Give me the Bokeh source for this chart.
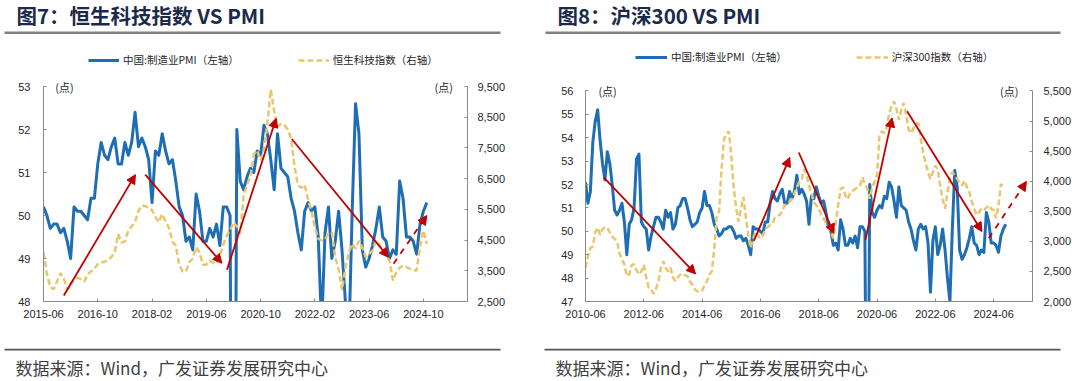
from bokeh.plotting import figure
from bokeh.models import (Range1d, LinearAxis, FixedTicker, NumeralTickFormatter, Legend,
                          LegendItem, Label, Arrow, NormalHead, BoxAnnotation)
from bokeh.layouts import column, row
from bokeh.embed import file_html
from bokeh.resources import INLINE
from bokeh.core.properties import value

# ---------------- data ----------------
pmi_2010_06_to_2015_05 = [
    52.1, 51.2, 51.7, 53.8, 54.7, 55.2, 53.9,
    52.9, 52.2, 53.4, 52.9, 52.0, 50.9, 50.7, 50.9, 51.2, 50.4, 49.0, 50.3,
    50.5, 51.0, 53.1, 53.3, 50.4, 50.2, 50.1, 49.2, 49.8, 50.2, 50.6, 50.6,
    50.4, 50.1, 50.9, 50.6, 50.8, 50.1, 50.3, 51.0, 51.1, 51.4, 51.4, 51.0,
    50.5, 50.2, 50.3, 50.4, 50.8, 51.0, 51.7, 51.1, 51.1, 50.8, 50.3, 50.1,
    49.8, 49.9, 50.1, 50.1, 50.2,
]
pmi_2015_06_to_2024_11 = [
    50.2, 50.0, 49.7, 49.8, 49.8, 49.6, 49.7,
    49.4, 49.0, 50.2, 50.1, 50.1, 50.0, 49.9, 50.4, 50.4, 51.2, 51.7, 51.4,
    51.3, 51.6, 51.8, 51.2, 51.2, 51.7, 51.4, 51.7, 52.4, 51.6, 51.8, 51.6,
    51.3, 50.3, 51.5, 51.4, 51.9, 51.5, 51.2, 51.3, 50.8, 50.2, 50.0, 49.4,
    49.5, 49.2, 50.5, 50.1, 49.4, 49.4, 49.7, 49.5, 49.8, 49.3, 50.2, 50.2,
    50.0, 35.7, 52.0, 50.8, 50.6, 50.9, 51.1, 51.0, 51.5, 51.4, 52.1, 51.9,
    51.3, 50.6, 51.9, 51.1, 51.0, 50.9, 50.4, 50.1, 49.6, 49.2, 50.1, 50.3,
    50.1, 50.2, 49.5, 47.4, 49.6, 50.2, 49.0, 49.4, 50.1, 49.2, 48.0, 47.0,
    50.1, 52.6, 51.9, 49.2, 48.8, 49.0, 49.3, 49.7, 50.2, 49.5, 49.4, 49.0,
    49.2, 49.1, 50.8, 50.4, 49.5, 49.5, 49.4, 49.1, 49.8, 50.1, 50.3,
]
hstech_2015_06_to_2024_11 = [
    4100, 3400, 2970, 2900, 3150, 3420, 3250, 2870, 3080, 3200, 3280, 3230,
    3150, 3380, 3480, 3560, 3720, 3760, 3800, 3830, 3950, 4100, 4700, 4420,
    4450, 4800, 4950, 5100, 5450, 5630, 5600, 5560, 5470, 5250, 5080, 5350,
    5100, 4900, 4450, 4320, 3700, 3480, 3480, 3780, 3900, 4270, 4100, 3700,
    3700, 3830, 3760, 3730, 4000, 4350, 4650, 4820, 5080, 4950, 4700, 5950,
    6300, 6550, 7300, 7400, 7100, 7420, 8300, 9400, 8700, 8200, 8280, 8250,
    8100, 7800, 6900, 6300, 6200, 6300, 5800, 5450, 4900, 4550, 4480, 4520,
    4700, 4750, 3950, 3550, 2870, 3600, 4100, 4380, 4220, 4480, 4250, 3950,
    4050, 4160, 4480, 4350, 4160, 4000, 3830, 3180, 3450, 3600, 3670, 3620,
    3560, 3520, 3510, 4300, 4810, 4380,
]
csi300_2010_06_to_2024_10 = [
    2560, 2750, 2890, 2910, 3150, 3230, 3110, 3200, 3240, 3220, 3150, 3080,
    3040, 3000, 2800, 2700, 2620, 2420, 2450, 2600, 2620, 2520, 2450, 2500,
    2610, 2400, 2230, 2200, 2130, 2200, 2340, 2560, 2670, 2560, 2500, 2560,
    2400, 2340, 2400, 2450, 2420, 2440, 2420, 2330, 2280, 2200, 2170, 2160,
    2180, 2270, 2340, 2450, 2500, 2880, 3400, 3500, 4200, 4700, 4780, 4830,
    4420, 3900, 3550, 3330, 3550, 3740, 3400, 3100, 2890, 3050, 3160, 3100,
    3050, 3100, 3200, 3240, 3270, 3300, 3400, 3420, 3440, 3500, 3600, 3620,
    3660, 3700, 3800, 3900, 3990, 4030, 4200, 4100, 3930, 3800, 3650, 3600,
    3545, 3450, 3380, 3300, 3216, 3150, 3050, 3300, 3600, 3870, 3900, 3760,
    3700, 3820, 3840, 3870, 3900, 3930, 4065, 3950, 3870, 3710, 3900, 3990,
    4100, 4750, 4830, 4800, 4910, 5130, 5250, 5330, 5200, 5020, 5190, 5300,
    5100, 4860, 4800, 4880, 4950, 4970, 4700, 4480, 4300, 4150, 4040, 4150,
    4260, 4200, 3930, 3700, 3545, 3820, 4040, 4150, 4100, 4040, 3980, 3930,
    4010, 3900, 3820, 3660, 3550, 3440, 3480, 3545, 3520, 3560, 3600, 3540,
    3520, 3380, 3600, 3955, 3900,
]
left_x_labels = ["2015-06", "2016-10", "2018-02", "2019-06", "2020-10", "2022-02", "2023-06", "2024-10"]
right_x_labels = ["2010-06", "2012-06", "2014-06", "2016-06", "2018-06", "2020-06", "2022-06", "2024-06"]
left_pmi_ticks = [48, 49, 50, 51, 52, 53]
left_idx_ticks = [2500, 3500, 4500, 5500, 6500, 7500, 8500, 9500]
right_pmi_ticks = [47, 48, 49, 50, 51, 52, 53, 54, 55, 56]
right_idx_ticks = [2000, 2500, 3000, 3500, 4000, 4500, 5000, 5500]

titles = ["图7：恒生科技指数 VS PMI", "图8：沪深300 VS PMI"]
source_text = "数据来源：Wind，广发证券发展研究中心"
pmi_name = "中国:制造业PMI（左轴）"
idx_names = ["恒生科技指数（右轴）", "沪深300指数（右轴）"]
unit_text = "(点)"

# trend arrows (x in months from the first date, y on the PMI axis)
left_arrows = [(6.0, 48.14, 27.1, 50.95, "solid"), (30.0, 50.95, 52.6, 48.89, "solid"),
               (54.1, 48.74, 68.6, 52.26, "solid"), (73.2, 51.78, 101.7, 49.03, "solid"),
               (103.2, 48.88, 113.0, 50.0, "dashed")]
right_arrows = [(7.5, 52.31, 45.3, 48.18, "solid"), (69.3, 49.59, 84.1, 53.16, "solid"),
                (87.8, 53.37, 102.2, 49.92, "solid"), (115.2, 49.63, 126.2, 54.85, "solid"),
                (132.4, 55.13, 163.2, 49.99, "solid"), (166.0, 49.7, 181.5, 52.13, "dashed")]

BLUE = "#1F6EB4"
YEL = "#E8C66E"
RED = "#C00000"
AXC = "#8A8A8A"
TXT = "#262626"
NUM_FONT = "Liberation Sans"
CJK = "Noto Sans CJK SC"

W = 1080
HEAD_H = 40
PANEL_H = 290
FOOT_H = 51
PANEL_TOP = HEAD_H  # page y of panel figures


def month_offset(lbl, start):
    y, mo = map(int, lbl.split("-"))
    y0, m0 = map(int, start.split("-"))
    return (y - y0) * 12 + (mo - m0)


def style_axis(ax, standoff):
    ax.axis_line_color = AXC
    ax.axis_line_width = 1
    ax.major_tick_line_color = AXC
    ax.major_tick_in = 3
    ax.major_tick_out = 0
    ax.minor_tick_in = 0
    ax.minor_tick_out = 0
    ax.major_label_text_font = NUM_FONT
    ax.major_label_text_font_size = "11px"
    ax.major_label_text_color = TXT
    ax.major_label_standoff = standoff


def make_panel(pmi, idx, x_labels, x_end, pmi_ticks, idx_ticks, idx_name, arrows,
               borders, axis_px, legend_loc, legend_spacing, glyph_w, unit_left, unit_right,
               standoffs):
    bl, br, bt, bb = borders
    # axis top/bottom in page px -> extend the range upward so the legend fits inside the frame
    ax_top, ax_bot = axis_px
    frame_top = PANEL_TOP + bt
    ext = (ax_top - frame_top) / (ax_bot - ax_top)
    lo, hi = pmi_ticks[0], pmi_ticks[-1]
    rlo, rhi = idx_ticks[0], idx_ticks[-1]
    p = figure(width=540, height=PANEL_H, output_backend="svg", toolbar_location=None,
               x_range=Range1d(0, x_end), y_range=Range1d(lo, hi + ext * (hi - lo)),
               min_border_left=bl, min_border_right=br, min_border_top=bt, min_border_bottom=bb)
    p.extra_y_ranges = {"r": Range1d(rlo, rhi + ext * (rhi - rlo))}
    p.outline_line_color = None
    p.xgrid.visible = False
    p.ygrid.visible = False
    p.background_fill_color = "white"
    p.border_fill_color = "white"

    start = x_labels[0]
    ticks = [month_offset(l, start) for l in x_labels]
    p.xaxis.ticker = FixedTicker(ticks=ticks)
    p.xaxis.major_label_overrides = {t: l for t, l in zip(ticks, x_labels)}
    p.yaxis.ticker = FixedTicker(ticks=pmi_ticks)
    p.yaxis.bounds = (lo, hi)
    style_axis(p.xaxis[0], standoffs[0])
    style_axis(p.yaxis[0], standoffs[1])
    ra = LinearAxis(y_range_name="r", ticker=FixedTicker(ticks=idx_ticks),
                    formatter=NumeralTickFormatter(format="0,0"), bounds=(rlo, rhi))
    style_axis(ra, standoffs[2])
    p.add_layout(ra, "right")

    xm = list(range(len(pmi)))
    xi = list(range(len(idx)))
    r_pmi = p.line(xm, pmi, line_color=BLUE, line_width=3, line_join="round")
    r_idx = p.line(xi, idx, y_range_name="r", line_color=YEL, line_width=2.5,
                   line_dash="6 3")

    for (x0, y0, x1, y1, dash) in arrows:
        p.add_layout(Arrow(x_start=x0, y_start=y0, x_end=x1, y_end=y1,
                           line_color=RED, line_width=1.8, line_dash=dash,
                           end=NormalHead(size=9, fill_color=RED, line_color=RED, line_width=1)))

    for (x, align) in [(unit_left, "left"), (unit_right, "right")]:
        p.add_layout(Label(x=x, y=hi, text=unit_text, text_align=align,
                           text_baseline="middle", text_font=CJK,
                           text_font_size="11px", text_color=TXT))

    leg = Legend(items=[LegendItem(label=value(pmi_name), renderers=[r_pmi]),
                        LegendItem(label=value(idx_name), renderers=[r_idx])],
                 location=legend_loc, orientation="horizontal", glyph_width=glyph_w,
                 glyph_height=10, label_standoff=4, spacing=legend_spacing, padding=0, margin=0,
                 border_line_color=None, background_fill_alpha=0,
                 label_text_font=CJK, label_text_font_size="10.5px", label_text_color=TXT,
                 label_height=10)
    p.add_layout(leg, "center")
    return p


p1 = make_panel(pmi_2015_06_to_2024_11, hstech_2015_06_to_2024_11, left_x_labels, 125,
                left_pmi_ticks, left_idx_ticks, idx_names[0], left_arrows,
                (43, 73, 8, 29), (86, 301), (45, 234), 59, 31, 3.5, 120.7, (8, 13, 10))
p2 = make_panel(pmi_2010_06_to_2015_05 + pmi_2015_06_to_2024_11, csi300_2010_06_to_2024_10,
                right_x_labels, 184, right_pmi_ticks, right_idx_ticks, idx_names[1],
                right_arrows, (45, 48, 8, 26), (91, 304), (50, 237), 69, 32, 5.3, 178.2,
                (8, 12, 11))


def blank(height, y0):
    f = figure(width=W, height=height, output_backend="svg", toolbar_location=None,
               x_range=Range1d(0, W), y_range=Range1d(y0 + height, y0),
               x_axis_type=None, y_axis_type=None, min_border=0)
    f.min_border_left = f.min_border_right = f.min_border_top = f.min_border_bottom = 0
    f.outline_line_color = None
    f.xgrid.visible = False
    f.ygrid.visible = False
    f.background_fill_color = "white"
    f.border_fill_color = "white"
    return f


head = blank(HEAD_H, 0)
for (tx, txt) in [(16, titles[0]), (557, titles[1])]:
    head.add_layout(Label(x=tx, y=14, text=txt, text_font=CJK, text_font_style="bold",
                          text_font_size="20.5px", text_color="#1B2A4A", text_baseline="middle"))
for (l, r) in [(4, 500), (545, 1060)]:
    head.add_layout(BoxAnnotation(left=l, right=r, top=31, bottom=33.5, fill_color="#808080",
                                  fill_alpha=1, line_color=None))

foot = blank(FOOT_H, PANEL_TOP + PANEL_H)
for (l, r) in [(4, 500), (544, 1060)]:
    foot.add_layout(BoxAnnotation(left=l, right=r, top=348.3, bottom=350, fill_color="#555555",
                                  fill_alpha=1, line_color=None))
for tx in [15, 555]:
    foot.add_layout(Label(x=tx, y=366.5, text=source_text, text_font=CJK,
                          text_font_size="17px", text_color="#404040", text_baseline="middle"))

p = column(head, row(p1, p2, spacing=0), foot, spacing=0)
open("out.html", "w").write(file_html(p, INLINE))
